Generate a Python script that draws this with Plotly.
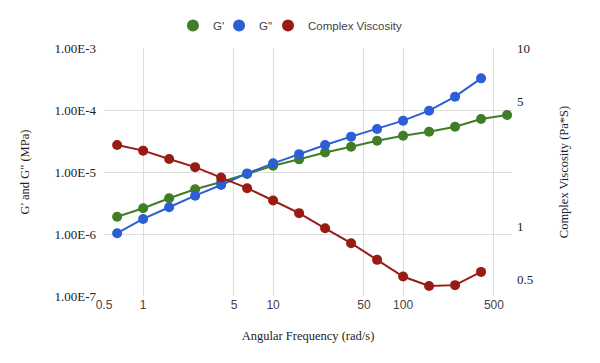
import plotly.graph_objects as go
import math

freq = [0.631, 1.0, 1.585, 2.512, 3.981, 6.31, 10.0, 15.85, 25.12, 39.81, 63.1, 100.0, 158.5, 251.2, 398.1, 631.0]
g_storage = [1.90e-6, 2.60e-6, 3.77e-6, 5.26e-6, 6.9e-6, 9.3e-6, 1.26e-5, 1.60e-5, 2.07e-5, 2.56e-5,
             3.20e-5, 3.85e-5, 4.47e-5, 5.38e-5, 7.16e-5, 8.3e-5]
g_loss = [1.03e-6, 1.75e-6, 2.70e-6, 4.15e-6, 6.17e-6, 9.5e-6, 1.38e-5, 1.94e-5, 2.72e-5, 3.72e-5,
          4.94e-5, 6.73e-5, 9.75e-5, 1.64e-4, 3.24e-4]
complex_visc = [2.85, 2.65, 2.38, 2.14, 1.87, 1.63, 1.39, 1.18, 0.97, 0.80, 0.645, 0.52, 0.46, 0.465, 0.552]

x_ticks = [0.5, 1, 5, 10, 50, 100, 500]
x_ticktext = ["0.5", "1", "5", "10", "50", "100", "500"]
y_ticks = [1e-3, 1e-4, 1e-5, 1e-6, 1e-7]
y_ticktext = ["1.00E-3", "1.00E-4", "1.00E-5", "1.00E-6", "1.00E-7"]
y2_ticks = [0.5, 1, 5, 10]
y2_ticktext = ["0.5", "1", "5", "10"]

names = ["G'", 'G"', "Complex Viscosity"]
colors = ["#3f7d27", "#2c5ed6", "#991c14"]

SANS = "Liberation Sans, Arial, sans-serif"
SERIF = "Liberation Serif, Times New Roman, serif"

fig = go.Figure()
series = [(freq[:len(g_storage)], g_storage, "y"), (freq[:len(g_loss)], g_loss, "y"),
          (freq[:len(complex_visc)], complex_visc, "y2")]
for (xs, ys, ax), c in zip(series, colors):
    fig.add_trace(go.Scatter(x=xs, y=ys, yaxis=ax, mode="lines+markers",
                             line=dict(color=c, width=2),
                             marker=dict(color=c, size=10),
                             showlegend=False, hoverinfo="x+y"))
legend_ids = ["legend", "legend2", "legend3"]
for n, c, lg in zip(names, colors, legend_ids):
    fig.add_trace(go.Scatter(x=[None], y=[None], mode="markers", name=n, legend=lg,
                             marker=dict(color=c, size=12)))

grid = "#dddddd"
leg_common = dict(orientation="h", y=0.89, yanchor="bottom", yref="container",
                  xanchor="left", font=dict(family=SANS, size=11.5, color="#444444"),
                  bgcolor="rgba(0,0,0,0)", itemwidth=30)
fig.update_layout(
    width=600, height=363,
    margin=dict(l=104, r=88, t=48, b=67),
    paper_bgcolor="white", plot_bgcolor="white",
    font=dict(family=SANS, size=12, color="#444444"),
    legend=dict(x=0.169, **leg_common),
    legend2=dict(x=0.282, **leg_common),
    legend3=dict(x=0.402, **leg_common),
    xaxis=dict(type="log", range=[math.log10(0.5), 2.838], automargin=False,
               tickvals=x_ticks, ticktext=x_ticktext,
               showgrid=True, gridcolor=grid, gridwidth=1, zeroline=False,
               showline=False, ticks="",
               tickfont=dict(family=SANS, size=12, color="#444444"),
               title=dict(text="Angular Frequency (rad/s)", standoff=20,
                          font=dict(family=SERIF, size=12.5, color="#222222"))),
    yaxis=dict(type="log", range=[-7, -3], automargin=False,
               tickvals=y_ticks, ticktext=y_ticktext, ticklabelstandoff=7,
               showgrid=True, gridcolor=grid, gridwidth=1, zeroline=False,
               showline=False, ticks="",
               tickfont=dict(family=SERIF, size=13, color="#222222"),
               title=dict(text='G\' and G" (MPa)', standoff=22,
                          font=dict(family=SERIF, size=12.5, color="#222222"))),
    yaxis2=dict(type="log", range=[math.log10(0.404), 1], overlaying="y", side="right",
                automargin=False, ticklabelstandoff=4,
                tickvals=y2_ticks, ticktext=y2_ticktext,
                showgrid=False, zeroline=False, showline=False, ticks="",
                tickfont=dict(family=SERIF, size=13, color="#222222"),
                title=dict(text="Complex Viscosity (Pa*S)", standoff=26,
                           font=dict(family=SERIF, size=12.5, color="#222222"))),
)
fig.write_html("out.html", config={"displayModeBar": False},
               post_script="document.body.style.margin='0';")
